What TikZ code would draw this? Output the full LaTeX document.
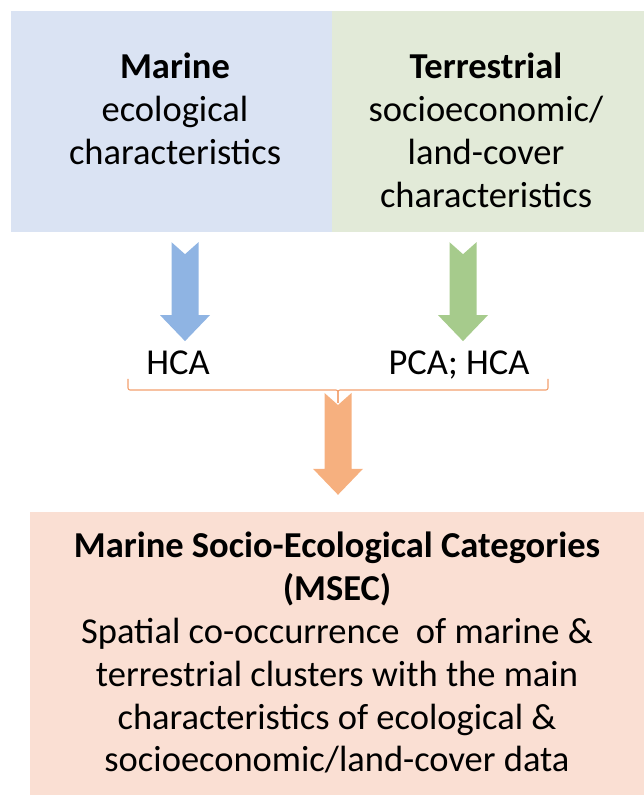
\documentclass[tikz,border=0pt]{standalone}
\usepackage{fontspec}
\setmainfont{Carlito}
\usepackage{tikz}
\usetikzlibrary{calc,positioning}
\definecolor{MarineFill}{HTML}{DAE3F3}
\definecolor{TerraFill}{HTML}{E2EAD8}
\definecolor{MsecFill}{HTML}{FADFD3}
\definecolor{MarineArrow}{HTML}{8FB4E3}
\definecolor{TerraArrow}{HTML}{A6CB8C}
\definecolor{MsecArrow}{HTML}{F6B07F}
\definecolor{BraceLine}{HTML}{F2A06E}
\newcommand{\blockarrow}[3]{%
  \fill[#1] ($(#2)+(-13.5,0)$) -- ($(#2)+(0,-12)$) -- ($(#2)+(13.5,0)$)
    -- ($(#3)+(13.5,26)$) -- ($(#3)+(25,26)$) -- (#3)
    -- ($(#3)+(-25,26)$) -- ($(#3)+(-13.5,26)$) -- cycle;}

\begin{document}
\begin{tikzpicture}[x=1pt,y=1pt,font=\fontsize{36.5}{42.8}\selectfont,
  panel/.style={inner sep=0pt,draw=none},
  body/.style={inner sep=0pt,align=center,anchor=north},
  method/.style={inner sep=2pt,anchor=base},
  brace/.style={BraceLine,line width=1.1pt,rounded corners=2pt}]
  \useasboundingbox (0,0) rectangle (644,795);
  \node[panel,fill=MarineFill,minimum width=321pt,minimum height=221pt] (marine) at (171.5,673.5) {};
  \node[panel,fill=TerraFill,minimum width=312pt,minimum height=221pt] (terra) at (488,673.5) {};
  \node[panel,fill=MsecFill,minimum width=614pt,minimum height=283pt] (msec) at (337,141.5) {};
  \node[body] (marineText) at (175,742) {\textbf{Marine}\\ecological\\characteristics};
  \node[body] (terraText) at (486,742) {\textbf{Terrestrial}\\socioeconomic/\\land-cover\\characteristics};
  \node[body] (msecText) at (337,263) {\textbf{Marine Socio-Ecological Categories}\\\textbf{(MSEC)}\\
    Spatial co-occurrence~ of marine \&\\terrestrial clusters with the main\\
    characteristics of ecological \&\\socioeconomic/land-cover data};
  \node[method] (hca) at (178,420) {HCA};
  \node[method] (pca) at (459,420) {PCA; HCA};
  \coordinate (blueTop) at ([xshift=13.5pt,yshift=-10pt]marine.south);
  \coordinate (blueTip) at ($(blueTop |- hca.north)+(0,8)$);
  \coordinate (greenTop) at ([xshift=-25pt,yshift=-10pt]terra.south);
  \coordinate (greenTip) at ($(greenTop |- pca.north)+(0,8)$);
  \blockarrow{MarineArrow}{blueTop}{blueTip}
  \blockarrow{TerraArrow}{greenTop}{greenTip}
  \coordinate (braceL) at (128,416);
  \coordinate (braceR) at (548,416);
  \coordinate (braceM) at (338,392);
  \draw[brace] (braceL) -- ++(0,-11) -| (braceM);
  \draw[brace] (braceR) -- ++(0,-11) -| (braceM);
  \coordinate (orangeTop) at ($(braceM)+(0,10)$);
  \coordinate (orangeTip) at ($(braceM |- msec.north)+(0,17)$);
  \blockarrow{MsecArrow}{orangeTop}{orangeTip}
\end{tikzpicture}
\end{document}
